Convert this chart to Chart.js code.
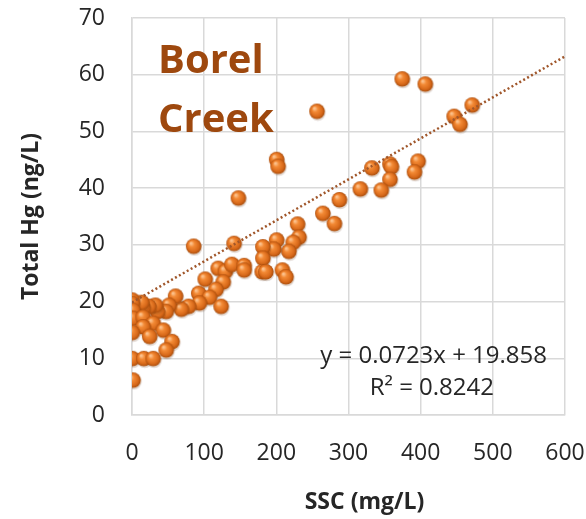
<!DOCTYPE html>
<html>
<head>
<meta charset="utf-8">
<script src="https://cdn.jsdelivr.net/npm/chart.js@4.4.1/dist/chart.umd.min.js"></script>
<style>
  html, body { margin: 0; padding: 0; background: #fff; }
  #wrap { width: 586px; height: 519px; }
</style>
</head>
<body>
<div id="wrap"><canvas id="hgChart" width="586" height="519"></canvas></div>
<script>
// SSC (mg/L) vs total mercury (ng/L) samples, Borel Creek
const ssc = [256, 200, 202, 147, 287, 264, 280,
  374, 406, 471, 446, 454, 396, 391, 357, 359, 332, 357, 345, 316,
  229, 231, 223, 217, 200, 196, 181, 181, 180, 185, 208, 213,
  141, 85, 119, 129, 138, 155, 155, 101, 126, 116, 92, 107, 93, 78, 68, 60, 51, 47, 35, 32, 23, 15, 13, 123,
  0, 0, 1, 1, 15, 29, 15, 0, 43, 24, 55, 47, 0, 16, 29, 1];
const hg = [53.6, 45.1, 43.9, 38.3, 38.0, 35.6, 33.8,
  59.3, 58.4, 54.7, 52.7, 51.3, 44.8, 42.9, 44.3, 43.8, 43.6, 41.6, 39.7, 39.9,
  33.7, 31.4, 30.5, 28.9, 30.9, 29.3, 29.7, 27.7, 25.3, 25.3, 25.6, 24.4,
  30.3, 29.8, 25.9, 25.4, 26.6, 26.4, 25.6, 24.0, 23.5, 22.2, 21.5, 20.8, 19.8, 19.2, 18.7, 21.0, 19.4, 18.3, 18.3, 19.4, 19.2, 19.0, 19.9, 19.2,
  20.3, 19.7, 18.5, 17.1, 17.3, 16.2, 15.6, 14.6, 15.0, 13.9, 13.0, 11.5, 10.0, 10.0, 10.0, 6.2];

// linear fit reported on the chart
const slope = 0.0723;
const intercept = 19.858;
const rSquared = 0.8242;
const fitRange = [0, 600];

const xTicks = [0, 100, 200, 300, 400, 500, 600];
const yTicks = [0, 10, 20, 30, 40, 50, 60, 70];

const FONT = "'Open Sans', 'Noto Sans', sans-serif";

// shaded orange ball used as the marker
function makeBall(r) {
  const pad = 3;
  const size = 2 * (r + pad);
  const c = document.createElement('canvas');
  c.width = size; c.height = size;
  const g = c.getContext('2d');
  const cx = size / 2, cy = size / 2;
  // soft shadow under the ball
  g.fillStyle = 'rgba(90,40,0,0.18)';
  g.beginPath();
  g.arc(cx + 0.8, cy + 1.6, r, 0, Math.PI * 2);
  g.fill();
  const grad = g.createRadialGradient(cx - r * 0.35, cy - r * 0.4, r * 0.1, cx, cy, r);
  grad.addColorStop(0, '#fcc28d');
  grad.addColorStop(0.3, '#f38a35');
  grad.addColorStop(0.75, '#d8691a');
  grad.addColorStop(1, '#a84d0c');
  g.fillStyle = grad;
  g.beginPath();
  g.arc(cx, cy, r, 0, Math.PI * 2);
  g.fill();
  return c;
}
const ball = makeBall(7.8);

const points = ssc.map((x, i) => ({ x: x, y: hg[i] }));
const fitLine = fitRange.map(x => ({ x: x, y: slope * x + intercept }));

const labelsPlugin = {
  id: 'chartText',
  afterDraw(chart) {
    const ctx = chart.ctx;
    const a = chart.chartArea;
    ctx.save();
    ctx.fillStyle = '#9e480e';
    ctx.font = `bold 40px ${FONT}`;
    ctx.textAlign = 'left';
    ctx.textBaseline = 'alphabetic';
    ctx.fillText('Borel', a.left + 26, a.top + 55);
    ctx.fillText('Creek', a.left + 26, a.top + 114);

    ctx.fillStyle = '#262626';
    ctx.font = `24px ${FONT}`;
    ctx.textAlign = 'right';
    ctx.fillText(`y = ${slope}x + ${intercept}`, a.right - 18, a.top + 345);
    ctx.fillText(`R² = ${rSquared}`, a.right - 71, a.top + 377);

    // x axis title
    ctx.font = `bold 23px ${FONT}`;
    ctx.textAlign = 'center';
    ctx.textBaseline = 'middle';
    ctx.fillText('SSC (mg/L)', (a.left + a.right) / 2 + 16, 502);
    ctx.restore();
  }
};

new Chart(document.getElementById('hgChart'), {
  type: 'scatter',
  data: {
    datasets: [
      {
        type: 'line',
        data: fitLine,
        borderColor: '#a0562a',
        borderWidth: 2.5,
        borderDash: [2, 2.5],
        pointRadius: 0,
        fill: false,
        order: 0
      },
      {
        data: points,
        pointStyle: ball,
        pointRadius: 8,
        order: 1
      }
    ]
  },
  options: {
    responsive: false,
    animation: false,
    layout: { padding: { top: 18, right: 21, left: 0, bottom: 0 } },
    plugins: {
      legend: { display: false },
      tooltip: { enabled: false }
    },
    scales: {
      x: {
        type: 'linear',
        min: 0, max: 600,
        afterBuildTicks: s => { s.ticks = xTicks.map(v => ({ value: v })); },
        afterFit: s => { s.height = 104; s.paddingLeft = 0; s.paddingRight = 0; },
        grid: { color: '#d9d9d9', lineWidth: 1.5, drawTicks: false },
        border: { color: '#d9d9d9', width: 1.5 },
        ticks: { color: '#262626', font: { family: FONT, size: 23 }, padding: 25, maxRotation: 0 }
      },
      y: {
        type: 'linear',
        min: 0, max: 70,
        afterBuildTicks: s => { s.ticks = yTicks.map(v => ({ value: v })); },
        afterFit: s => { s.width = 132; s.paddingTop = 0; s.paddingBottom = 0; },
        grid: { color: '#d9d9d9', lineWidth: 1.5, drawTicks: false },
        border: { color: '#d9d9d9', width: 1.5 },
        ticks: { color: '#262626', font: { family: FONT, size: 23 }, padding: 27 },
        title: {
          display: true, text: 'Total Hg (ng/L)', color: '#262626',
          font: { family: FONT, size: 23, weight: 'bold' }, padding: { top: 18 }
        }
      }
    }
  },
  plugins: [labelsPlugin]
});
</script>
</body>
</html>
